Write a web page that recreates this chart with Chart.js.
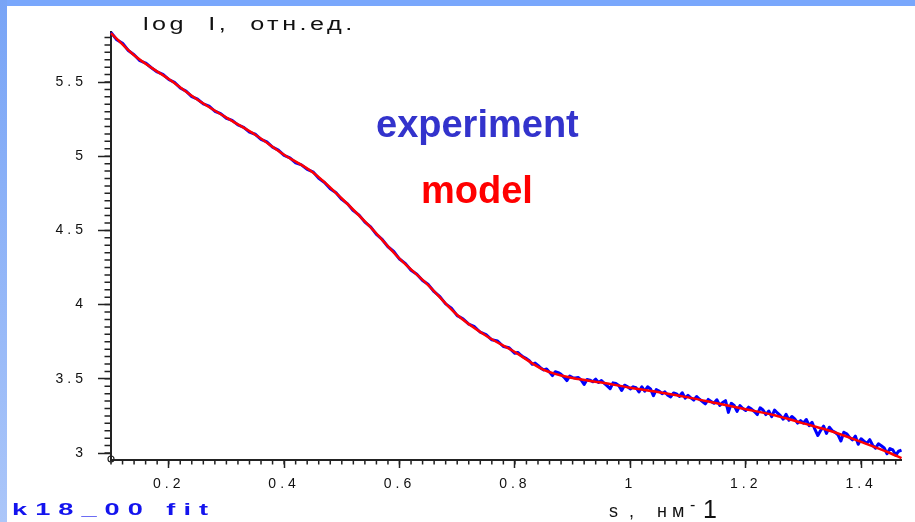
<!DOCTYPE html>
<html>
<head>
<meta charset="utf-8">
<script src="https://cdn.jsdelivr.net/npm/chart.js@4"></script>
<style>
  html, body { margin: 0; padding: 0; background: #fff; }
  #wrap { position: relative; width: 915px; height: 522px; overflow: hidden; background: #fff; }
  #topbar { position: absolute; left: 0; top: 0; width: 915px; height: 6px; background: #79a7fc; }
  #leftbar { position: absolute; left: 0; top: 0; width: 7px; height: 522px; background: linear-gradient(#78a4f6, #abc6f9); }
  canvas { position: absolute; left: 0; top: 0; }
</style>
</head>
<body>
<div id="wrap">
  <div id="topbar"></div>
  <div id="leftbar"></div>
  <canvas id="sasChart" width="915" height="522"></canvas>
</div>
<script>
// experiment: s, нм^-1 and log I
const sExp = [
  0.10, 0.11, 0.12, 0.13, 0.14, 0.15, 0.16, 0.17, 0.18, 0.19,
  0.20, 0.21, 0.22, 0.23, 0.24, 0.25, 0.26, 0.27, 0.28, 0.29,
  0.30, 0.31, 0.32, 0.33, 0.34, 0.35, 0.36, 0.37, 0.38, 0.39,
  0.40, 0.41, 0.42, 0.43, 0.44, 0.45, 0.46, 0.47, 0.48, 0.49,
  0.50, 0.51, 0.52, 0.53, 0.54, 0.55, 0.56, 0.57, 0.58, 0.59,
  0.60, 0.61, 0.62, 0.63, 0.64, 0.65, 0.66, 0.67, 0.68, 0.69,
  0.70, 0.71, 0.72, 0.73, 0.74, 0.75, 0.76, 0.77, 0.78, 0.79,
  0.80, 0.805, 0.81, 0.815, 0.82, 0.825, 0.83, 0.835, 0.84, 0.845,
  0.85, 0.855, 0.86, 0.865, 0.87, 0.875, 0.88, 0.885, 0.89, 0.895,
  0.90, 0.905, 0.91, 0.915, 0.92, 0.925, 0.93, 0.935, 0.94, 0.945,
  0.95, 0.955, 0.96, 0.965, 0.97, 0.975, 0.98, 0.985, 0.99, 0.995,
  1.00, 1.005, 1.01, 1.015, 1.02, 1.025, 1.03, 1.035, 1.04, 1.045,
  1.05, 1.055, 1.06, 1.065, 1.07, 1.075, 1.08, 1.085, 1.09, 1.095,
  1.10, 1.105, 1.11, 1.115, 1.12, 1.125, 1.13, 1.135, 1.14, 1.145,
  1.15, 1.155, 1.16, 1.165, 1.17, 1.175, 1.18, 1.185, 1.19, 1.195,
  1.20, 1.205, 1.21, 1.215, 1.22, 1.225, 1.23, 1.235, 1.24, 1.245,
  1.25, 1.255, 1.26, 1.265, 1.27, 1.275, 1.28, 1.285, 1.29, 1.295,
  1.30, 1.305, 1.31, 1.315, 1.32, 1.325, 1.33, 1.335, 1.34, 1.345,
  1.35, 1.355, 1.36, 1.365, 1.37, 1.375, 1.38, 1.385, 1.39, 1.395,
  1.40, 1.405, 1.41, 1.415, 1.42, 1.425, 1.43, 1.435, 1.44, 1.445,
  1.45, 1.455, 1.46, 1.465, 1.47
];
const logIExp = [
  5.835, 5.785, 5.761, 5.712, 5.684, 5.644, 5.628, 5.596, 5.568, 5.552,
  5.517, 5.497, 5.460, 5.439, 5.402, 5.384, 5.353, 5.338, 5.303, 5.287,
  5.256, 5.242, 5.211, 5.195, 5.162, 5.148, 5.114, 5.096, 5.061, 5.041,
  5.005, 4.989, 4.956, 4.942, 4.911, 4.895, 4.851, 4.823, 4.780, 4.754,
  4.709, 4.679, 4.633, 4.603, 4.556, 4.524, 4.473, 4.439, 4.390, 4.358,
  4.307, 4.278, 4.232, 4.205, 4.162, 4.135, 4.087, 4.054, 4.005, 3.976,
  3.926, 3.905, 3.868, 3.851, 3.814, 3.798, 3.763, 3.755, 3.718, 3.709,
  3.672, 3.678, 3.660, 3.646, 3.636, 3.622, 3.598, 3.606, 3.590, 3.572,
  3.560, 3.566, 3.545, 3.522, 3.548, 3.542, 3.530, 3.512, 3.488, 3.519,
  3.508, 3.505, 3.509, 3.491, 3.462, 3.496, 3.491, 3.480, 3.498, 3.475,
  3.488, 3.470, 3.452, 3.433, 3.473, 3.468, 3.455, 3.421, 3.457, 3.448,
  3.432, 3.446, 3.440, 3.411, 3.446, 3.417, 3.446, 3.432, 3.386, 3.427,
  3.418, 3.400, 3.412, 3.390, 3.378, 3.405, 3.398, 3.381, 3.406, 3.370,
  3.389, 3.372, 3.357, 3.381, 3.362, 3.347, 3.331, 3.361, 3.348, 3.335,
  3.359, 3.321, 3.340, 3.353, 3.274, 3.335, 3.320, 3.281, 3.319, 3.300,
  3.287, 3.309, 3.296, 3.280, 3.259, 3.305, 3.290, 3.259, 3.283, 3.245,
  3.289, 3.270, 3.252, 3.228, 3.261, 3.221, 3.246, 3.230, 3.202, 3.218,
  3.201, 3.226, 3.184, 3.207, 3.159, 3.118, 3.153, 3.181, 3.132, 3.174,
  3.150, 3.139, 3.122, 3.081, 3.140, 3.130, 3.105, 3.089, 3.114, 3.059,
  3.096, 3.080, 3.065, 3.090, 3.052, 3.033, 3.062, 3.049, 3.034, 2.995,
  3.030, 3.021, 2.985, 3.012, 3.020
];

// model fit
const sModel = [0.10, 0.14, 0.20, 0.25, 0.30, 0.35, 0.40, 0.45, 0.50, 0.55, 0.60, 0.65, 0.70, 0.75,
  0.80, 0.85, 0.90, 0.95, 1.00, 1.05, 1.10, 1.15, 1.20, 1.25, 1.30, 1.35, 1.40, 1.45, 1.47];
const logIModel = [5.83, 5.68, 5.52, 5.38, 5.26, 5.145, 5.01, 4.89, 4.715, 4.52, 4.31, 4.13, 3.93, 3.79,
  3.68, 3.56, 3.505, 3.475, 3.44, 3.41, 3.375, 3.335, 3.295, 3.255, 3.20, 3.145, 3.075, 3.00, 2.965];

const xTickValues = [0.2, 0.4, 0.6, 0.8, 1.0, 1.2, 1.4];
const xTickLabels = ["0.2", "0.4", "0.6", "0.8", "1", "1.2", "1.4"];
const yTickValues = [3, 3.5, 4, 4.5, 5, 5.5];
const yTickLabels = ["3", "3.5", "4", "4.5", "5", "5.5"];

function drawText(ctx, text, x, y, font, color, spacing, sx) {
  ctx.save();
  ctx.font = font;
  ctx.fillStyle = color;
  ctx.letterSpacing = spacing + "px";
  ctx.textAlign = "left";
  ctx.textBaseline = "alphabetic";
  ctx.translate(x, y);
  ctx.scale(sx, 1);
  ctx.fillText(text, 0, 0);
  ctx.restore();
}

const decor = {
  id: "decor",
  beforeDraw(chart) {
    chart.ctx.letterSpacing = "4px";
  },
  afterDraw(chart) {
    const { ctx } = chart;
    const x = chart.scales.x, y = chart.scales.y;
    ctx.save();
    ctx.letterSpacing = "0px";
    // minor ticks
    ctx.strokeStyle = "#222";
    ctx.lineWidth = 1.5;
    ctx.beginPath();
    for (let i = 0; i <= 68; i++) {
      const px = x.getPixelForValue(0.1 + i * 0.02);
      ctx.moveTo(px, y.bottom);
      ctx.lineTo(px, y.bottom + 4.5);
    }
    for (let i = 0; i <= 56; i++) {
      const py = y.getPixelForValue(3 + i * 0.05);
      ctx.moveTo(x.left - 6.5, py);
      ctx.lineTo(x.left, py);
    }
    ctx.stroke();
    // origin marker
    ctx.beginPath();
    ctx.lineWidth = 1.2;
    ctx.arc(x.left, y.bottom - 1, 3, 0, Math.PI * 2);
    ctx.stroke();
    ctx.restore();

    const sans = '"Liberation Sans", Arial, sans-serif';
    drawText(ctx, "log  I,  отн.ед.", 143, 30, "18px " + sans, "#111", 2.5, 1.4);
    drawText(ctx, "experiment", 376, 137, "bold 38px " + sans, "#3333cc", 0, 1);
    drawText(ctx, "model", 421, 203, "bold 38px " + sans, "#ff0000", 0, 1);
    drawText(ctx, "k18_00 fit", 12, 515, "bold 17px " + sans, "#1414ee", 5, 1.6);
    drawText(ctx, "s", 609, 517, "18px " + sans, "#111", 0, 1);
    drawText(ctx, ",", 629, 517, "18px " + sans, "#111", 0, 1);
    drawText(ctx, "нм", 657, 517, "18px " + sans, "#111", 5, 1);
    drawText(ctx, "-", 690, 510, "16px " + sans, "#111", 0, 1);
    drawText(ctx, "1", 703, 518, "25px " + sans, "#111", 0, 1);
  }
};

const ctx = document.getElementById("sasChart");
new Chart(ctx, {
  type: "line",
  data: {
    datasets: [
      {
        label: "experiment",
        data: sExp.map((s, i) => ({ x: s, y: logIExp[i] })),
        borderColor: "#0000ff",
        borderWidth: 3,
        borderJoinStyle: "round",
        pointRadius: 0,
        tension: 0,
        order: 2,
        clip: false,
      },
      {
        label: "model",
        data: sModel.map((s, i) => ({ x: s, y: logIModel[i] })),
        borderColor: "#ff0000",
        borderWidth: 2.5,
        pointRadius: 0,
        cubicInterpolationMode: "monotone",
        order: 1,
        clip: false,
      },
    ],
  },
  options: {
    responsive: false,
    animation: false,
    devicePixelRatio: 1,
    layout: { padding: { top: 32, right: 13.5, left: 0, bottom: 0 } },
    plugins: { legend: { display: false }, tooltip: { enabled: false } },
    scales: {
      x: {
        type: "linear",
        min: 0.1,
        max: 1.47,
        afterFit: (s) => { s.height = 62; },
        afterBuildTicks: (s) => { s.ticks = xTickValues.map((v) => ({ value: v })); },
        grid: { drawOnChartArea: false, tickLength: 8, tickColor: "#222", tickWidth: 1.5 },
        border: { color: "#222", width: 2 },
        ticks: {
          padding: 8,
          color: "#111",
          font: { family: '"Liberation Sans", Arial, sans-serif', size: 14 },
          maxRotation: 0,
          autoSkip: false,
          callback: (v, i) => xTickLabels[i],
        },
      },
      y: {
        type: "linear",
        min: 2.953,
        max: 5.837,
        afterFit: (s) => { s.width = 111; },
        afterBuildTicks: (s) => { s.ticks = yTickValues.map((v) => ({ value: v })); },
        grid: { drawOnChartArea: false, tickLength: 13, tickColor: "#222", tickWidth: 1.5 },
        border: { color: "#222", width: 2 },
        ticks: {
          padding: 11,
          color: "#111",
          font: { family: '"Liberation Sans", Arial, sans-serif', size: 14 },
          autoSkip: false,
          callback: (v, i) => yTickLabels[i],
        },
      },
    },
  },
  plugins: [decor],
});
</script>
</body>
</html>
